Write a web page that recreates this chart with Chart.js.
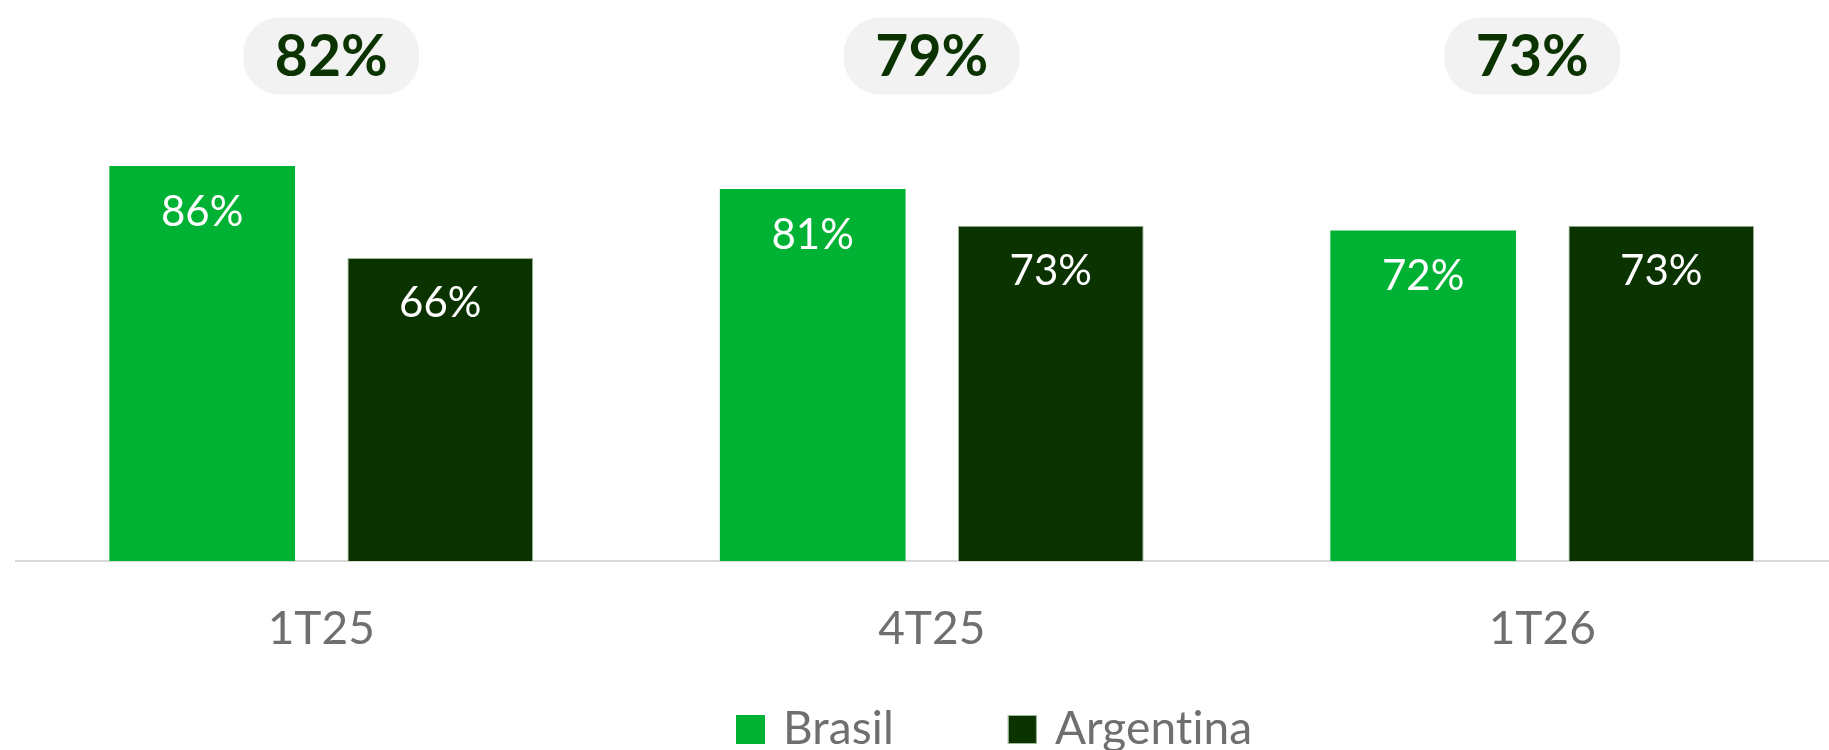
<!DOCTYPE html>
<html>
<head>
<meta charset="utf-8">
<script src="https://cdn.jsdelivr.net/npm/chart.js@4/dist/chart.umd.min.js"></script>
<style>
  html, body { margin: 0; padding: 0; background: #ffffff; overflow: hidden; width: 1829px; height: 750px; }
  #wrap { position: absolute; left: 0; top: 0; width: 1860px; height: 760px; }
</style>
</head>
<body>
<div id="wrap"><canvas id="c" width="1860" height="760"></canvas></div>
<script>
const categories = ['1T25', '4T25', '1T26'];
const brasil = [86, 81, 72];
const argentina = [66, 73, 73];
const totals = [82, 79, 73];
const seriesNames = ['Brasil', 'Argentina'];

const GREEN = '#00b233';
const DARK = '#0b3300';
const FONT = 'Lato, "Open Sans", sans-serif';

const labelPlugin = {
  id: 'labels',
  afterDatasetsDraw(chart) {
    const ctx = chart.ctx;
    ctx.save();
    ctx.fillStyle = '#ffffff';
    ctx.font = '42px ' + FONT;
    ctx.textAlign = 'center';
    ctx.textBaseline = 'middle';
    chart.data.datasets.forEach((ds, di) => {
      const meta = chart.getDatasetMeta(di);
      meta.data.forEach((el, i) => {
        ctx.fillText(ds.data[i] + '%', el.x, el.y + 46);
      });
    });
    ctx.restore();
  },
  afterDraw(chart) {
    const ctx = chart.ctx;
    const xs = chart.scales.x;
    const area = chart.chartArea;
    const mid = (area.left + area.right) / 2;
    ctx.save();
    // total pills (slightly tighter spacing than the bar groups)
    totals.forEach((v, i) => {
      const cx = mid + (xs.getPixelForValue(i) - mid) * 0.9836;
      const cy = 56;
      const w = 176, h = 77, r = 36;
      ctx.beginPath();
      ctx.roundRect(cx - w / 2, cy - h / 2, w, h, r);
      ctx.fillStyle = '#f2f2f2';
      ctx.fill();
      ctx.fillStyle = DARK;
      ctx.font = 'bold 57px ' + FONT;
      ctx.textAlign = 'center';
      ctx.textBaseline = 'middle';
      ctx.fillText(v + '%', cx, cy + 2);
    });
    // legend
    ctx.font = '46px ' + FONT;
    ctx.letterSpacing = '0.1px';
    ctx.textAlign = 'left';
    ctx.textBaseline = 'alphabetic';
    let x = 736;
    chart.data.datasets.forEach((ds, di) => {
      ctx.fillStyle = ds.backgroundColor;
      ctx.fillRect(x, 715, 29, 29);
      if (ds.borderWidth) {
        ctx.strokeStyle = ds.borderColor;
        ctx.lineWidth = 1;
        ctx.strokeRect(x + 0.5, 715.5, 28, 28);
      }
      ctx.fillStyle = '#6f6f6f';
      ctx.fillText(ds.label, x + 47, 744);
      x = x + 47 + ctx.measureText(ds.label).width + 114;
    });
    ctx.restore();
  }
};

new Chart(document.getElementById('c'), {
  type: 'bar',
  data: {
    labels: categories,
    datasets: [
      { label: seriesNames[0], data: brasil, backgroundColor: GREEN, borderWidth: 0 },
      { label: seriesNames[1], data: argentina, backgroundColor: DARK, borderColor: '#a3b99d', borderWidth: 1 }
    ]
  },
  options: {
    responsive: false,
    animation: false,
    devicePixelRatio: 1,
    categoryPercentage: 0.78,
    barPercentage: 0.78,
    layout: { padding: { left: 16, right: 12.5, top: 10, bottom: 0 } },
    plugins: { legend: { display: false }, tooltip: { enabled: false } },
    scales: {
      y: { display: false, min: 0, max: 120 },
      x: {
        grid: { display: false, drawTicks: false },
        border: { display: true, color: '#d9d9d9', width: 2 },
        ticks: { color: '#6f6f6f', font: { family: FONT, size: 46 }, padding: 41 },
        afterFit(scale) { scale.height = 199; }
      }
    }
  },
  plugins: [labelPlugin]
});
</script>
</body>
</html>
